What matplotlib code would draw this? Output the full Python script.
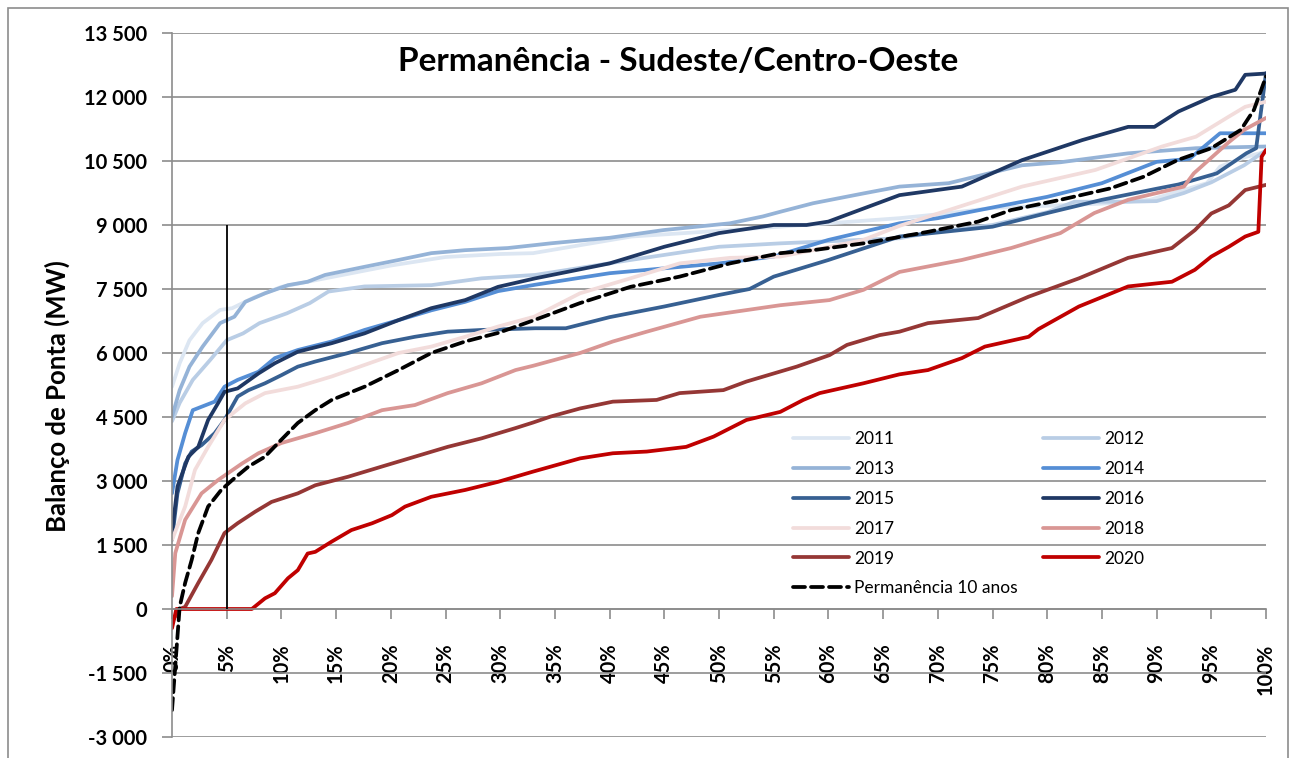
import numpy as np
import matplotlib
matplotlib.use("Agg")
import matplotlib.pyplot as plt
from matplotlib.patches import Rectangle
from matplotlib.ticker import FuncFormatter

plt.rcParams['font.family'] = ['Lato', 'DejaVu Sans']

# Curvas de permanência (% do tempo x balanço em MW)
x_2011 = [0, 0.7, 1.6, 2.8, 4.4, 5.5, 7.5, 10, 15, 20, 25, 30, 33, 42, 51, 60, 66.5, 70, 75, 80, 85, 89.4, 94.6, 95.8, 98.2, 100]
y_2011 = [5210, 5760, 6300, 6700, 7010, 7050, 7300, 7550, 7800, 8050, 8250, 8320, 8340, 8730, 8880, 9040, 9160, 9250, 9400, 9450, 9500, 9590, 9980, 10370, 10600, 10720]

x_2012 = [0, 0.7, 1.9, 3.5, 5, 6.5, 8, 10.5, 12.6, 14.3, 17.6, 23.7, 28.3, 33.2, 41.9, 50, 55.6, 66.5, 70, 75, 80, 82.5, 87.5, 90, 92.5, 95, 98, 100]
y_2012 = [4400, 4830, 5370, 5840, 6300, 6460, 6700, 6930, 7170, 7440, 7560, 7590, 7750, 7830, 8180, 8490, 8570, 8690, 8850, 9000, 9300, 9546, 9546, 9560, 9750, 10000, 10400, 10750]

x_2013 = [0, 0.7, 1.6, 2.8, 4.4, 5.7, 6.7, 8.5, 10.6, 12.4, 14, 17.6, 20.7, 23.7, 26.8, 30.7, 33.2, 34.6, 40, 44.9, 51, 54, 55.6, 58.6, 63.2, 66.5, 71, 77.7, 81.2, 87.4, 93.6, 100]
y_2013 = [4510, 5130, 5680, 6150, 6700, 6850, 7200, 7400, 7590, 7670, 7830, 8020, 8180, 8340, 8410, 8460, 8530, 8570, 8700, 8880, 9040, 9200, 9310, 9510, 9740, 9900, 9980, 10400, 10470, 10680, 10800, 10840]

x_2014 = [0, 0.5, 1.2, 1.9, 3.9, 4.8, 6, 7.9, 9.4, 11.5, 14.6, 17.6, 20.7, 23.7, 26.8, 29.8, 33.2, 40, 50, 55, 60, 66.5, 70, 80, 85, 90, 93, 95.8, 100]
y_2014 = [2710, 3490, 4120, 4660, 4860, 5210, 5370, 5560, 5880, 6070, 6270, 6540, 6770, 7000, 7200, 7450, 7600, 7870, 8100, 8260, 8650, 9040, 9160, 9660, 9980, 10480, 10550, 11150, 11150]

x_2015 = [0, 0.5, 1.2, 1.8, 2.7, 3.9, 4.8, 6, 7, 8.5, 10, 11.5, 13.1, 16.1, 19.2, 22.2, 25.2, 28.3, 33.2, 36, 40, 45, 50, 52.8, 55, 60, 66.5, 75, 80, 85, 90, 92, 95.5, 98.2, 99.1, 100]
y_2015 = [1620, 2710, 3410, 3690, 3840, 4120, 4430, 4980, 5130, 5290, 5480, 5680, 5800, 6000, 6230, 6380, 6500, 6540, 6580, 6580, 6840, 7090, 7360, 7500, 7790, 8180, 8730, 8960, 9280, 9590, 9850, 9950, 10210, 10680, 10800, 12560]

x_2016 = [0, 0.5, 1.5, 2.4, 3.3, 4.2, 4.8, 6, 7.9, 9.4, 11.5, 14.6, 17.6, 20.7, 23.7, 26.8, 29.8, 33.2, 40, 45, 50, 55, 58, 60, 66.5, 72.2, 77.7, 83.2, 87.4, 89.8, 92, 95, 97.2, 98.1, 100]
y_2016 = [1780, 2870, 3570, 3800, 4430, 4820, 5090, 5170, 5520, 5760, 6030, 6230, 6460, 6770, 7050, 7240, 7550, 7750, 8100, 8490, 8810, 9000, 9000, 9080, 9700, 9900, 10520, 10990, 11300, 11300, 11660, 12000, 12170, 12520, 12550]

x_2017 = [0, 1.2, 2.1, 3.3, 4.8, 6.7, 8.5, 11.5, 14.6, 17.6, 20.7, 23.7, 26.8, 29.8, 33.1, 37.3, 41.9, 46.4, 51, 55.6, 58.6, 63.2, 66.5, 77.7, 84.4, 90.5, 93.6, 96.6, 98.1, 100]
y_2017 = [1620, 2400, 3260, 3800, 4430, 4820, 5060, 5210, 5450, 5720, 6000, 6150, 6380, 6620, 6850, 7400, 7750, 8100, 8230, 8260, 8410, 8650, 8980, 9900, 10290, 10840, 11070, 11540, 11770, 11890]

x_2018 = [0, 0.3, 1.2, 2.7, 4.2, 5.1, 6.4, 7.9, 10, 13.1, 16.1, 19.2, 22.2, 25.2, 28.3, 31.4, 33, 37.3, 40.3, 43.4, 48.3, 55.6, 60.1, 63.2, 66.5, 72.2, 76.7, 81.2, 84.3, 87.4, 92.5, 93.4, 96.5, 98, 100]
y_2018 = [300, 1310, 2090, 2710, 3020, 3180, 3410, 3650, 3890, 4120, 4360, 4660, 4780, 5060, 5290, 5600, 5700, 6000, 6270, 6500, 6850, 7120, 7240, 7480, 7900, 8180, 8460, 8810, 9280, 9590, 9900, 10210, 10920, 11230, 11510]

x_2019 = [0, 0.7, 1.2, 2.4, 3.6, 4.8, 6, 7.6, 9.1, 11.5, 13.1, 16.1, 19.2, 22.2, 25.2, 28.3, 31.4, 33, 34.6, 37.3, 40.3, 44.3, 46.4, 50.4, 52.5, 57.1, 60.1, 61.7, 64.7, 66.5, 69.1, 73.7, 78.3, 82.9, 87.4, 91.4, 93.5, 95, 96.6, 98.1, 100]
y_2019 = [-300, 0, 50, 610, 1150, 1780, 2010, 2280, 2510, 2710, 2900, 3100, 3340, 3570, 3800, 4000, 4240, 4370, 4510, 4700, 4860, 4900, 5060, 5130, 5330, 5680, 5950, 6190, 6420, 6500, 6700, 6820, 7320, 7750, 8230, 8460, 8880, 9270, 9460, 9820, 9940]

x_2020 = [0, 0.4, 7.3, 8.5, 9.4, 10.6, 11.5, 12.4, 13.1, 14.6, 16.4, 18.3, 20.1, 21.3, 23.7, 26.8, 29.8, 33, 37.3, 40.3, 43.4, 47, 49.5, 52.5, 55.6, 57.7, 59.2, 63.2, 66.5, 69.1, 72.2, 74.3, 78.3, 79.2, 82.9, 87.4, 91.4, 93.5, 95, 96.6, 98.1, 99.3, 99.6, 100]
y_2020 = [-450, 0, 0, 250, 370, 720, 910, 1300, 1340, 1580, 1850, 2010, 2200, 2400, 2630, 2790, 2980, 3220, 3530, 3650, 3690, 3800, 4040, 4430, 4620, 4900, 5060, 5290, 5500, 5600, 5880, 6150, 6380, 6560, 7090, 7560, 7670, 7950, 8260, 8490, 8730, 8840, 10600, 10760]

x_perm = [0, 0.7, 1.2, 1.8, 2.4, 3.3, 4.5, 5.5, 7, 8.5, 9.7, 11.5, 13.1, 14.6, 17.6, 20.7, 23.7, 26.8, 29.8, 33.1, 37.3, 41.9, 46.4, 51, 55.6, 58.6, 63.2, 66.5, 69.1, 73.7, 76.7, 81.2, 85.8, 88.8, 91.9, 95, 97.7, 98.9, 100]
y_perm = [-2370, 50, 610, 1150, 1780, 2400, 2790, 3020, 3340, 3570, 3890, 4360, 4660, 4900, 5210, 5600, 6000, 6270, 6470, 6770, 7170, 7550, 7790, 8100, 8340, 8410, 8570, 8720, 8840, 9080, 9350, 9590, 9860, 10130, 10520, 10800, 11230, 11700, 12480]

anos = ["2011", "2012", "2013", "2014", "2015", "2016", "2017", "2018", "2019", "2020"]
cores = ["#dce6f2", "#b9cde5", "#95b3d7", "#558ed5", "#376092", "#1f3864",
         "#f2dcdb", "#d99694", "#953735", "#c00000"]
xs = [x_2011, x_2012, x_2013, x_2014, x_2015, x_2016, x_2017, x_2018, x_2019, x_2020]
ys = [y_2011, y_2012, y_2013, y_2014, y_2015, y_2016, y_2017, y_2018, y_2019, y_2020]

# linha de referência em 5%
ref_pct = 5
ref_topo = 9000

y_ticks = np.arange(-3000, 13501, 1500)
x_ticks = np.arange(0, 101, 5)

W, H = 1293, 758
fig = plt.figure(figsize=(W / 100, H / 100), dpi=100)
fig.patches.append(Rectangle((8 / W, -0.1), (1288 - 8) / W, 1.1 - 8 / H,
                             transform=fig.transFigure, fill=False,
                             ec="#8c8c8c", lw=1.2))

ax = fig.add_axes([172 / W, 1 - 737 / H, 1094 / W, 704 / H])

handles = {}
for ano, cor, x, y in zip(anos, cores, xs, ys):
    h, = ax.plot(x, y, color=cor, lw=2.7, solid_joinstyle="round",
                 solid_capstyle="round", label=ano)
    handles[ano] = h
h_perm, = ax.plot(x_perm, y_perm, color="black", lw=2.7, ls=(0, (3.2, 1.6)),
                  dash_capstyle="round", label="Permanência 10 anos")

ax.vlines(ref_pct, 0, ref_topo, color="black", lw=1.3, zorder=5)

ax.set_xlim(0, 100)
ax.set_ylim(-3000, 13500)
ax.set_yticks(y_ticks)
ax.yaxis.set_major_formatter(FuncFormatter(lambda v, p: f"{int(v):,}".replace(",", " ")))
ax.set_xticks(x_ticks)
ax.set_xticklabels([f"{int(v)}%" for v in x_ticks])

ax.yaxis.grid(True, color="#8c8c8c", lw=1.2)
ax.set_axisbelow(True)
for s in ["top", "right"]:
    ax.spines[s].set_visible(False)
ax.spines["bottom"].set_position(("data", 0))
ax.spines["bottom"].set_color("#8c8c8c")
ax.spines["left"].set_color("#8c8c8c")
ax.spines["bottom"].set_linewidth(1.2)
ax.spines["left"].set_linewidth(1.2)

ax.tick_params(axis="y", direction="out", length=7, color="#8c8c8c", width=1.2,
               labelsize=14.5, pad=11)
ax.tick_params(axis="x", direction="out", length=7, color="#8c8c8c", width=1.2,
               labelsize=14.5, pad=18, labelrotation=90)
for lab in ax.get_xticklabels() + ax.get_yticklabels():
    lab.set_fontweight("bold")

ax.text(0.4625, 0.959, "Permanência - Sudeste/Centro-Oeste", transform=ax.transAxes,
        ha="center", va="center", fontsize=24, fontweight="bold")
fig.text(57 / W, 1 - 396 / H, "Balanço de Ponta (MW)", rotation=90,
         ha="center", va="center", fontsize=18.5, fontweight="bold")

ordem = ["2011", "2013", "2015", "2017", "2019"]
ordem2 = ["2012", "2014", "2016", "2018", "2020"]
leg_h = [handles[a] for a in ordem] + [h_perm] + [handles[a] for a in ordem2]
leg_l = ordem + ["Permanência 10 anos"] + ordem2
ax.legend(leg_h, leg_l, ncol=2, frameon=False, fontsize=12.5,
          loc="upper left", bbox_to_anchor=(793 / W, 1 - 431 / H),
          bbox_transform=fig.transFigure, borderpad=0, borderaxespad=0,
          handlelength=3.2, handletextpad=0.3, columnspacing=1.5,
          labelspacing=0.8)

fig.savefig("out.png", dpi=100)
